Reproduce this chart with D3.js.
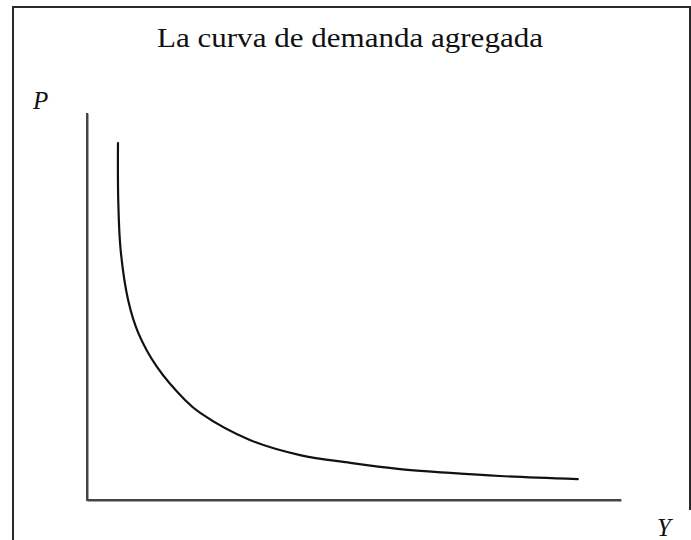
<!DOCTYPE html>
<html>
<head>
<meta charset="utf-8">
<script src="https://cdn.jsdelivr.net/npm/d3@7"></script>
<style>
  html, body { margin: 0; padding: 0; background: #fff; }
  svg { display: block; }
</style>
</head>
<body>
<svg id="chart" width="691" height="540"></svg>
<script>
// Data (arbitrary units 0–100)
const title = "La curva de demanda agregada";
const xLabel = "Y";
const yLabel = "P";
const outputY = [5.8, 5.85, 6.3, 7.7, 9.6, 13.1, 18.4, 21.2, 30.5, 39.9, 49.3, 58.6, 68.0, 77.3, 91.9];
const priceP  = [92.2, 77.5, 64.6, 51.7, 43.2, 34.4, 25.8, 22.5, 15.5, 11.6, 9.6, 8.0, 7.0, 6.2, 5.4];

const svg = d3.select("#chart");
const W = 691, H = 540;

// Frame
svg.append("path")
  .attr("d", `M13,${H} L13,7 L690,7 L690,510`)
  .attr("fill", "none").attr("stroke", "#2a2a2a").attr("stroke-width", 2);

const x = d3.scaleLinear().domain([0, 100]).range([87, 621]);
const y = d3.scaleLinear().domain([0, 100]).range([500, 113]);

svg.append("g").attr("transform", `translate(0,${y(0)})`)
  .call(d3.axisBottom(x).ticks(0).tickSizeOuter(0));
svg.append("g").attr("transform", `translate(${x(0)},0)`)
  .call(d3.axisLeft(y).ticks(0).tickSizeOuter(0));
svg.selectAll(".domain").attr("stroke", "#444").attr("stroke-width", 2);

// Corner join
svg.append("path")
  .attr("d", `M${x(0)},${y(100)} L${x(0)},${y(0)} L${x(100)},${y(0)}`)
  .attr("fill", "none").attr("stroke", "#444").attr("stroke-width", 2)
  .attr("stroke-linejoin", "miter");

// Demand curve
const pts = outputY.map((v, i) => [v, priceP[i]]);
svg.append("path")
  .datum(pts)
  .attr("d", d3.line().x(d => x(d[0])).y(d => y(d[1])).curve(d3.curveCatmullRom.alpha(0.5)))
  .attr("fill", "none").attr("stroke", "#111").attr("stroke-width", 2.2)
  .attr("stroke-linecap", "round");

// Title
svg.append("text")
  .attr("x", 350).attr("y", 47)
  .attr("text-anchor", "middle")
  .attr("font-family", "'Liberation Serif', 'DejaVu Serif', serif")
  .attr("font-size", 28)
  .attr("fill", "#111")
  .attr("textLength", 386)
  .attr("lengthAdjust", "spacingAndGlyphs")
  .text(title);

// Axis labels
svg.append("text")
  .attr("x", 33).attr("y", 109)
  .attr("font-family", "'Liberation Serif', 'DejaVu Serif', serif")
  .attr("font-style", "italic")
  .attr("font-size", 25)
  .attr("fill", "#111")
  .text(yLabel);

svg.append("text")
  .attr("x", 657).attr("y", 536)
  .attr("font-family", "'Liberation Serif', 'DejaVu Serif', serif")
  .attr("font-style", "italic")
  .attr("font-size", 25)
  .attr("fill", "#111")
  .text(xLabel);
</script>
</body>
</html>
